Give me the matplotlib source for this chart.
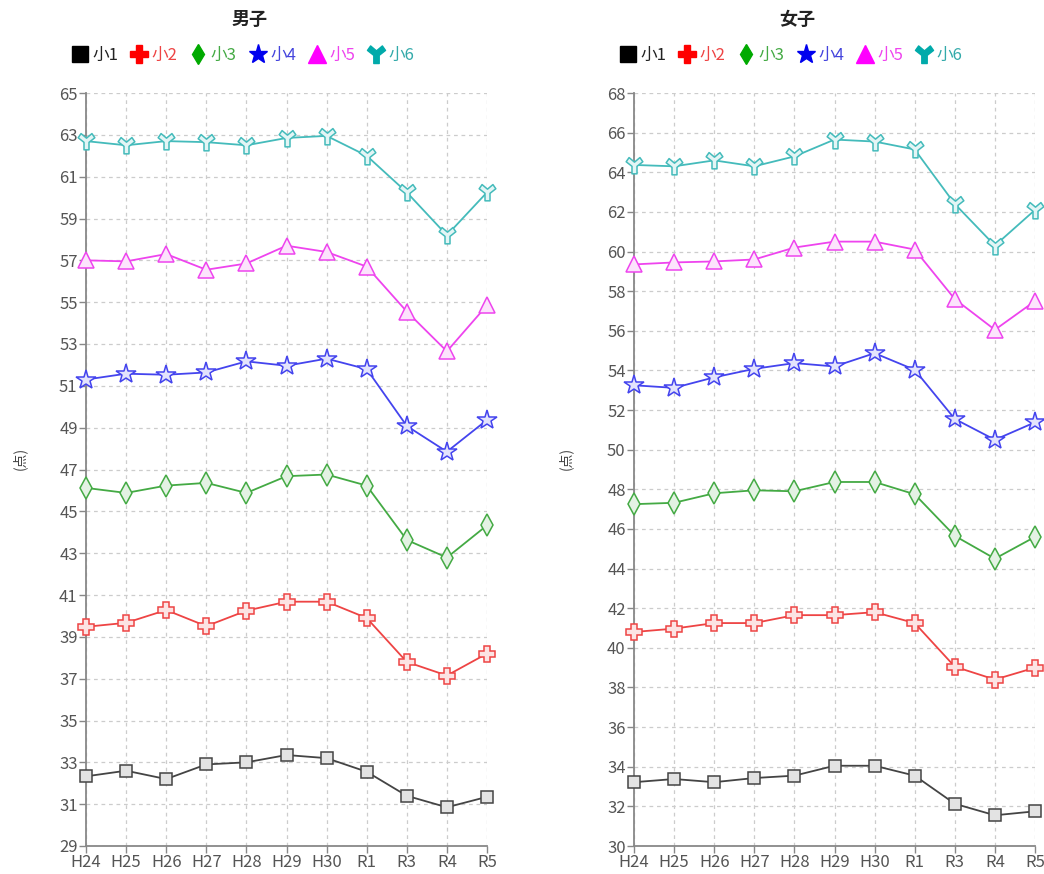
import matplotlib
matplotlib.use("Agg")
import matplotlib.pyplot as plt
from matplotlib.path import Path
import numpy as np

plt.rcParams['font.family'] = ['Noto Sans CJK JP', 'DejaVu Sans']

years = ["H24", "H25", "H26", "H27", "H28", "H29", "H30", "R1", "R3", "R4", "R5"]
series_names = ["小1", "小2", "小3", "小4", "小5", "小6"]

boys_s1 = [32.33, 32.6, 32.2, 32.9, 33.0, 33.35, 33.2, 32.55, 31.4, 30.85, 31.35]
boys_s2 = [39.48, 39.67, 40.28, 39.51, 40.25, 40.68, 40.68, 39.9, 37.8, 37.15, 38.2]
boys_s3 = [46.12, 45.88, 46.23, 46.36, 45.88, 46.68, 46.76, 46.23, 43.63, 42.79, 44.33]
boys_s4 = [51.3, 51.58, 51.53, 51.64, 52.17, 51.96, 52.3, 51.8, 49.08, 47.85, 49.37]
boys_s5 = [57.0, 56.95, 57.3, 56.55, 56.85, 57.7, 57.4, 56.7, 54.55, 52.65, 54.85]
boys_s6 = [62.7, 62.5, 62.7, 62.65, 62.5, 62.85, 62.95, 62.0, 60.25, 58.2, 60.25]

girls_s1 = [33.22, 33.38, 33.22, 33.43, 33.55, 34.05, 34.05, 33.55, 32.13, 31.55, 31.75]
girls_s2 = [40.8, 40.97, 41.25, 41.25, 41.65, 41.65, 41.8, 41.25, 39.05, 38.4, 39.0]
girls_s3 = [47.25, 47.32, 47.8, 47.95, 47.9, 48.37, 48.37, 47.75, 45.65, 44.5, 45.6]
girls_s4 = [53.25, 53.12, 53.65, 54.08, 54.37, 54.2, 54.87, 54.03, 51.55, 50.5, 51.38]
girls_s5 = [59.35, 59.45, 59.5, 59.6, 60.2, 60.5, 60.5, 60.1, 57.6, 56.05, 57.5]
girls_s6 = [64.37, 64.3, 64.6, 64.3, 64.8, 65.65, 65.55, 65.15, 62.4, 60.3, 62.1]

boys_ticks = list(range(29, 66, 2))
girls_ticks = list(range(30, 69, 2))

line_colors = ["#444444", "#ee4444", "#44aa44", "#4444ee", "#ee44ee", "#44bbbb"]
legend_colors = ["#000000", "#ff0000", "#00aa00", "#0000ee", "#ff00ff", "#00aaaa"]
text_colors = ["#222222", "#ee4444", "#44aa44", "#4444dd", "#ee44ee", "#33aaaa"]

# Y-shaped custom marker
yverts = [(-0.3, -1.0), (0.3, -1.0), (0.3, -0.1), (1.0, 0.45), (0.65, 0.95),
          (0.0, 0.4), (-0.65, 0.95), (-1.0, 0.45), (-0.3, -0.1), (-0.3, -1.0)]
ycodes = [Path.MOVETO] + [Path.LINETO] * (len(yverts) - 2) + [Path.CLOSEPOLY]
ymarker = Path(yverts, ycodes)

markers = ["s", "P", "d", "*", "^", ymarker]
msizes = [9, 11, 11, 15, 11, 12]
lmsizes = [12, 13, 10, 14, 13, 13]


def lighten(c, f=0.8):
    c = np.array(matplotlib.colors.to_rgb(c))
    return tuple(c + (1 - c) * f)


fig = plt.figure(figsize=(10.44, 8.74), dpi=100)

panels = [
    ("男子", [boys_s1, boys_s2, boys_s3, boys_s4, boys_s5, boys_s6], boys_ticks,
     [86 / 1044, 28 / 874, 401 / 1044, 753 / 874], 20 / 1044, 250 / 1044, 243 / 1044),
    ("女子", [girls_s1, girls_s2, girls_s3, girls_s4, girls_s5, girls_s6], girls_ticks,
     [634 / 1044, 28 / 874, 401 / 1044, 753 / 874], 566 / 1044, 797 / 1044, 791 / 1044),
]

for title, data, ticks, rect, ylx, tx, legx in panels:
    ax = fig.add_axes(rect)
    x = np.arange(len(years))
    for i, vals in enumerate(data):
        ax.plot(x, vals, color=line_colors[i], lw=1.3, marker=markers[i],
                markersize=msizes[i], markerfacecolor=lighten(line_colors[i], 0.85),
                markeredgecolor=line_colors[i], markeredgewidth=1.1, clip_on=False, zorder=3)
    ax.set_xlim(0, len(years) - 1)
    ax.set_ylim(ticks[0], ticks[-1])
    ax.set_xticks(x)
    ax.set_xticklabels(years)
    ax.set_yticks(ticks)
    ax.grid(True, color="#cccccc", linestyle=(0, (3, 3)), lw=0.9)
    ax.set_axisbelow(True)
    for s in ["top", "right"]:
        ax.spines[s].set_visible(False)
    for s in ["left", "bottom"]:
        ax.spines[s].set_color("#888888")
        ax.spines[s].set_linewidth(1.3)
    ax.tick_params(axis="both", colors="#888888", labelcolor="#555555", labelsize=12,
                   length=5, width=1, pad=1)
    fig.text(ylx, 0.475, "(点)", rotation=90, ha="center", va="center",
             fontsize=10, color="#444444")
    fig.text(tx, 0.978, title, ha="center", va="center", fontsize=13,
             fontweight="bold", color="#222222")
    handles = [plt.Line2D([], [], ls="none", marker=markers[i], markersize=lmsizes[i],
                          markerfacecolor=legend_colors[i], markeredgecolor=legend_colors[i])
               for i in range(6)]
    leg = fig.legend(handles, series_names, loc="center", bbox_to_anchor=(legx, 0.937),
                     ncol=6, frameon=False, fontsize=12, handlelength=1.0,
                     handletextpad=0.25, columnspacing=0.75)
    for t, c in zip(leg.get_texts(), text_colors):
        t.set_color(c)

fig.savefig("out.png", dpi=100)
